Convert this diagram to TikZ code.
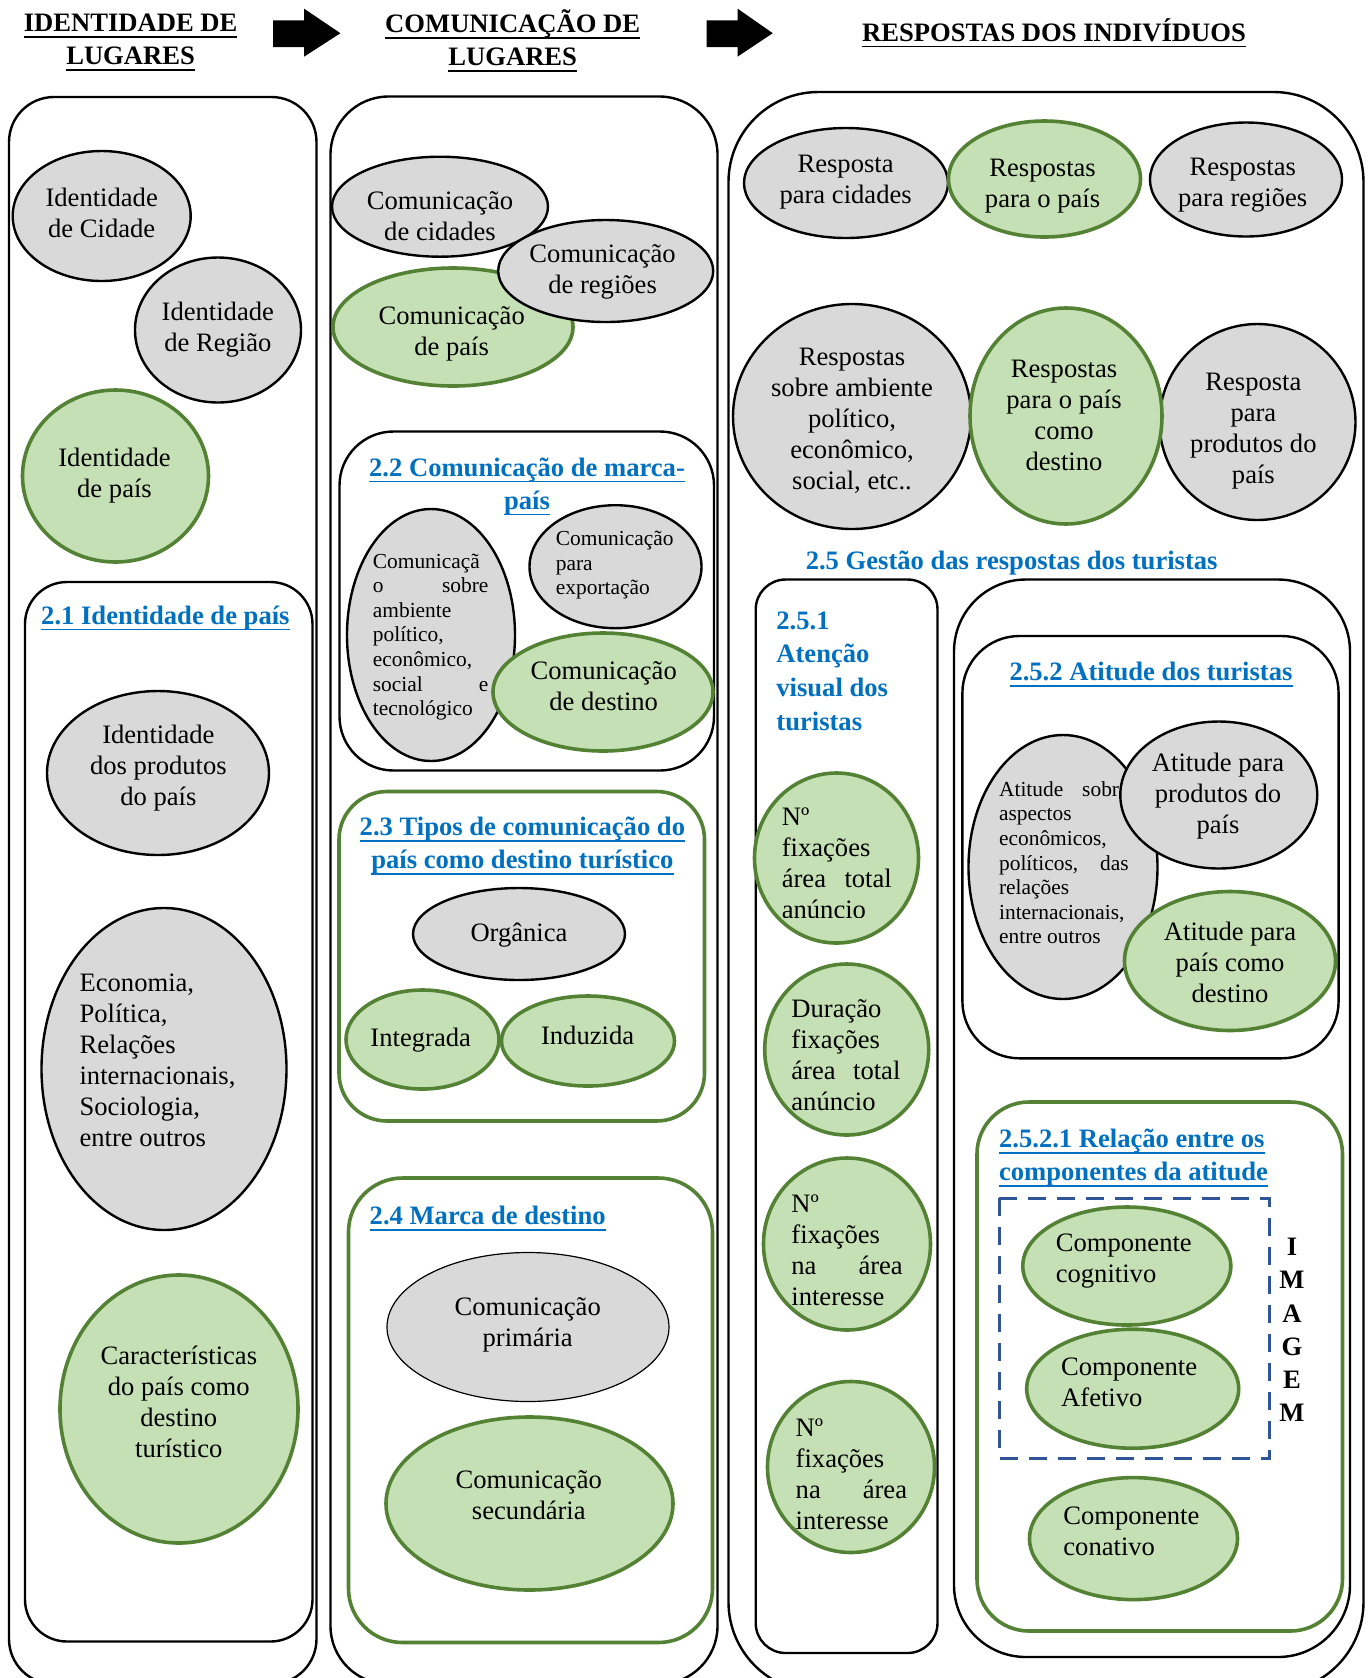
\documentclass[tikz,border=0pt]{standalone}
\usepackage{fontspec}
\setmainfont{Liberation Serif}
\usetikzlibrary{shapes.geometric}

\definecolor{grayfill}{HTML}{D9D9D9}
\definecolor{grfill}{HTML}{C5E0B4}
\definecolor{grline}{HTML}{548235}
\definecolor{tblue}{HTML}{0070C0}
\definecolor{dblue}{HTML}{2F5597}

\newcommand\mainsz{\fontsize{13.3}{15.5}\selectfont}
\newcommand\smallsz{\fontsize{10.7}{12.3}\selectfont}
\newcommand\headsz{\fontsize{13.3}{16.5}\selectfont\bfseries}
\newcommand\jl[2]{\makebox[#1][s]{#2}}
% underline at a fixed depth below the baseline
\newcommand\uln[1]{\leavevmode\setbox0\hbox{#1}\rlap{\rule[-3.1pt]{\wd0}{0.9pt}}\box0}

\begin{document}
\begin{tikzpicture}[x=0.5pt,y=-0.5pt,
  bx/.style={draw=black, line width=1.2pt},
  gbx/.style={draw=grline, line width=1.8pt},
  grayel/.style={ellipse, draw=black, fill=grayfill, line width=1.2pt, inner sep=0pt},
  grnel/.style={ellipse, draw=grline, fill=grfill, line width=1.8pt, inner sep=0pt},
  sz/.style 2 args={minimum width=#1*0.5pt, minimum height=#2*0.5pt},
  txt/.style={inner sep=0pt, align=center, font=\mainsz, yshift=-1.3pt,
    execute at begin node=\strut, execute at end node=\strut},
  ltxt/.style={inner sep=0pt, align=left, anchor=west, font=\mainsz, yshift=-1.3pt,
    execute at begin node=\strut, execute at end node=\strut},
  stxt/.style={inner sep=0pt, align=left, anchor=west, font=\smallsz, yshift=-0.8pt,
    execute at begin node=\strut, execute at end node=\strut},
  ttl/.style={inner sep=0pt, align=center, text=tblue, font=\headsz,
    execute at begin node=\strut, execute at end node=\strut},
  head/.style={inner sep=0pt, align=center, text=black, font=\headsz,
    execute at begin node=\strut, execute at end node=\strut},
  blockarrow/.style={fill=black}
]
\clip (0,0) rectangle (1368,1678);
\fill[white] (0,0) rectangle (1368,1678);

% ---------- header ----------
\node[head] (h1) at (130.6,44.6) {\uln{IDENTIDADE DE}\\\uln{LUGARES}};
\node[head] (h2) at (512.7,42.4) {\uln{COMUNICAÇÃO DE}\\\uln{LUGARES}};
\node[head] (h3) at (1054,34.5) {\uln{RESPOSTAS DOS INDIVÍDUOS}};
\fill[blockarrow] (273,20.3) -- (304,20.3) -- (304,8.6) -- (340.4,33.2)
  -- (304,56.7) -- (304,47.1) -- (273,47.1) -- cycle;
\fill[blockarrow] (706.5,20.3) -- (737.5,20.3) -- (737.5,8.6) -- (772.8,33.2)
  -- (737.5,56.7) -- (737.5,47.1) -- (706.5,47.1) -- cycle;

% ---------- column 1: identidade ----------
\draw[bx, rounded corners=22.5pt] (9,97) rectangle (316.5,1684);
\node[grayel, sz={178}{130}] (idcid) at (101.7,216) {};
\node[txt] (tidcid) at (101.7,214.5) {Identidade\\de Cidade};
\node[grayel, sz={166}{145}] (idreg) at (218,330) {};
\node[txt] (tidreg) at (217.8,328.5) {Identidade\\de Região};
\node[grnel, sz={186}{172}] (idpais) at (115.5,476) {};
\node[txt] (tidpais) at (114.5,474.5) {Identidade\\de país};

\draw[bx, rounded corners=21pt] (25,582) rectangle (312.5,1641.5);
\node[ttl] (t21) at (165.4,617.5) {\uln{2.1 Identidade de país}};
\node[grayel, sz={222}{164}] (idprod) at (158,773) {};
\node[txt] (tidprod) at (158.4,767.5) {Identidade\\dos produtos\\do país};
\node[grayel, sz={245}{322}] (econ) at (164,1069) {};
\node[ltxt] (tecon) at (79.2,1062.7) {Economia,\\Política,\\Relações\\internacionais,\\Sociologia,\\entre outros};
\node[grnel, sz={238}{268}] (carac) at (179,1409) {};
\node[txt] (tcarac) at (178.8,1404) {Características\\do país como\\destino\\turístico};

% ---------- column 2: comunicação ----------
\draw[bx, rounded corners=29pt] (330.5,96.5) rectangle (717.5,1684);
\node[grayel, sz={216}{100}] (comcid) at (440,206.7) {};
\node[txt] (tcomcid) at (440,218) {Comunicação\\de cidades};
\node[grnel, sz={240}{118}] (compais) at (453,327) {};
\node[txt] (tcompais) at (451.7,333.3) {Comunicação\\de país};
\node[grayel, sz={215}{102}] (comreg) at (605.7,271) {};
\node[txt] (tcomreg) at (602.6,271.2) {Comunicação\\de regiões};

\draw[bx, rounded corners=27pt] (339.5,431.5) rectangle (714,770.5);
\node[ttl] (t22) at (527,488.4) {\uln{2.2 Comunicação de marca-}\\\uln{país}};
\node[grayel, sz={168}{252}] (comamb) at (431,635) {};
\node[stxt] (tcomamb) at (372.5,636.7) {Comunicaçã\\\jl{57.75pt}{o sobre}\\ambiente\\político,\\econômico,\\\jl{57.75pt}{social e}\\tecnológico};
\node[grayel, sz={172}{123}] (comexp) at (615.5,566.7) {};
\node[stxt] (tcomexp) at (555.5,565) {Comunicação\\para\\exportação};
\node[grnel, sz={220}{118}] (comdest) at (603,692) {};
\node[txt] (tcomdest) at (603.7,688.5) {Comunicação\\de destino};

\draw[gbx, rounded corners=24pt] (339,791.5) rectangle (704.5,1121);
\node[ttl] (t23) at (522.4,847.5) {\uln{2.3 Tipos de comunicação do}\\\uln{país como destino turístico}};
\node[grayel, sz={212}{92}] (organ) at (519,934) {};
\node[txt] (torgan) at (519,932.5) {Orgânica};
\node[grnel, sz={153}{99}] (integ) at (422.5,1039.5) {};
\node[txt] (tinteg) at (420.7,1037.5) {Integrada};
\node[grnel, sz={173}{90}] (induz) at (588,1041) {};
\node[txt] (tinduz) at (587.6,1035.5) {Induzida};

\draw[gbx, rounded corners=27pt] (348.5,1178) rectangle (712.5,1642.5);
\node[ttl, anchor=west] (t24) at (369.3,1218) {\uln{2.4 Marca de destino}};
\node[grayel, line width=0.6pt, sz={282}{149}] (comprim) at (528,1327) {};
\node[txt] (tcomprim) at (527.7,1324) {Comunicação\\primária};
\node[grnel, sz={287}{173}] (comsec) at (529.5,1503.5) {};
\node[txt] (tcomsec) at (528.8,1497) {Comunicação\\secundária};

% ---------- column 3: respostas ----------
\draw[bx, rounded corners=45pt] (728.5,92) rectangle (1363.5,1692);
\node[grayel, sz={204}{110}] (respcid) at (846,183) {};
\node[txt] (trespcid) at (845.6,181.3) {Resposta\\para cidades};
\node[grayel, sz={192}{114}] (respreg) at (1246,179.5) {};
\node[txt] (trespreg) at (1242.7,184) {Respostas\\para regiões};
\node[grnel, sz={192}{116}] (resppais) at (1044.5,179) {};
\node[txt] (tresppais) at (1042.6,185) {Respostas\\para o país};

\node[grayel, sz={238}{225}] (respamb) at (852,416.5) {};
\node[txt] (trespamb) at (852,420.5) {Respostas\\sobre ambiente\\político,\\econômico,\\social, etc..};
\node[grayel, sz={196}{196}] (respprod) at (1257.5,422) {};
\node[txt] (trespprod) at (1253.4,430) {Resposta\\para\\produtos do\\país};
\node[grnel, sz={192}{216}] (respdest) at (1066,416) {};
\node[txt] (trespdest) at (1064,417.8) {Respostas\\para o país\\como\\destino};

\node[ttl] (t25) at (1011.7,563) {2.5 Gestão das respostas dos turistas};

% 2.5.1 visual attention
\draw[bx, rounded corners=15pt] (755.7,579.5) rectangle (937.5,1653);
\node[ttl, align=left, anchor=west, font=\fontsize{13.3}{16.85}\selectfont\bfseries] (t251) at (776,676) {2.5.1\\Atenção\\visual dos\\turistas};

\node[grnel, sz={164}{170}] (fix1) at (836.5,858) {};
\begin{scope}
  \clip (750,770) rectangle (935,917);
  \node[ltxt] (tfix1) at (781.4,864.7) {Nº\\fixações\\\jl{55pt}{área total}\\anúncio};
\end{scope}
\node[grnel, sz={164}{171}] (fix2) at (846.7,1049.5) {};
\begin{scope}
  \clip (750,960) rectangle (935,1111);
  \node[ltxt] (tfix2) at (791,1057) {Duração\\fixações\\\jl{54.5pt}{área total}\\anúncio};
\end{scope}
\node[grnel, sz={167}{172}] (fix3) at (847,1244) {};
\node[ltxt] (tfix3) at (791,1252) {Nº\\fixações\\\jl{55.7pt}{na área}\\interesse};
\node[grnel, sz={167}{171}] (fix4) at (851,1467) {};
\node[ltxt] (tfix4) at (795.3,1476) {Nº\\fixações\\\jl{55.7pt}{na área}\\interesse};

% 2.5.2 attitude
\draw[bx, rounded corners=36pt] (954,579.5) rectangle (1350,1657);
\draw[bx, rounded corners=28.5pt] (962.4,636) rectangle (1338.6,1058.3);
\node[ttl] (t252) at (1151,674) {\uln{2.5.2 Atitude dos turistas}};
\node[grayel, sz={189}{264}] (atsobre) at (1063,867) {};
\node[stxt] (tatsobre) at (998.7,864.7) {\jl{64.75pt}{Atitude sobre}\\aspectos\\econômicos,\\\jl{64.75pt}{políticos, das}\\relações\\internacionais,\\entre outros};
\node[grayel, sz={197}{147}] (atprod) at (1218.8,795) {};
\node[txt] (tatprod) at (1218,795.7) {Atitude para\\produtos do\\país};
\node[grnel, sz={211}{139}] (atdest) at (1230,961) {};
\node[txt] (tatdest) at (1230,964.7) {Atitude para\\país como\\destino};

% 2.5.2.1 attitude components
\draw[gbx, rounded corners=26pt] (977,1102) rectangle (1342.5,1631);
\node[ttl, align=left, anchor=west] (t2521) at (998.7,1160) {\uln{2.5.2.1 Relação entre os}\\\uln{componentes da atitude}};
\draw[draw=dblue, line width=1.5pt, dash pattern=on 9pt off 5.5pt] (999,1198) rectangle (1269.5,1458.5);
\node[grnel, sz={208}{118}] (cogn) at (1126.8,1266) {};
\node[ltxt] (tcogn) at (1055.4,1260.7) {Componente\\cognitivo};
\node[grnel, sz={212}{119}] (afet) at (1132.7,1388.7) {};
\node[ltxt] (tafet) at (1060.8,1384) {Componente\\Afetivo};
\node[grnel, sz={208}{122}] (conat) at (1133.5,1538.6) {};
\node[ltxt] (tconat) at (1063,1533.7) {Componente\\conativo};
\node[head, font=\fontsize{13.3}{16.6}\selectfont\bfseries] (imagem) at (1292,1335) {I\\M\\A\\G\\E\\M};
\end{tikzpicture}
\end{document}
